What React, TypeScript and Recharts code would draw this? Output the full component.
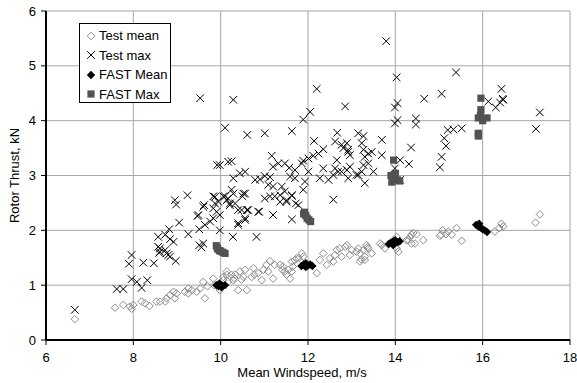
import { CartesianGrid, Scatter, ScatterChart, XAxis, YAxis } from 'recharts';

// windspeed (m/s), thrust (kN) pairs
const TEST_MEAN: [number, number][] = [
  [6.66, 0.38], [7.58, 0.59], [7.77, 0.64], [7.92, 0.61], [7.96, 0.57], [8.0, 0.64], [8.19, 0.7],
  [8.27, 0.67], [8.37, 0.62], [8.53, 0.7], [8.61, 0.7], [8.73, 0.7], [8.76, 0.76], [8.84, 0.82],
  [8.92, 0.88], [8.99, 0.85], [8.95, 0.76], [9.18, 0.88], [9.26, 0.94], [9.26, 0.85], [9.34, 0.91],
  [9.45, 0.88], [9.53, 0.94], [9.6, 1.06], [9.64, 0.76], [9.7, 0.98], [9.83, 1.12], [9.85, 1.0],
  [9.98, 0.91], [10.06, 1.15], [10.14, 1.19], [10.06, 1.09], [10.14, 1.25], [10.25, 1.19],
  [10.17, 1.06], [10.29, 1.09], [10.31, 1.13], [10.33, 1.19], [10.44, 1.25], [10.48, 1.1],
  [10.52, 1.15], [10.56, 1.28], [10.4, 0.91], [10.6, 0.91], [10.71, 1.15], [10.75, 1.31],
  [10.77, 1.19], [10.86, 1.22], [10.94, 1.09], [10.98, 1.28], [11.05, 1.37], [11.09, 1.25],
  [11.13, 1.44], [11.2, 1.12], [11.24, 1.37], [11.36, 1.37], [11.43, 1.34], [11.41, 1.28],
  [11.47, 1.25], [11.51, 1.19], [11.55, 1.28], [11.59, 1.12], [11.63, 1.25], [11.65, 1.34],
  [11.63, 1.43], [11.7, 1.46], [11.74, 1.49], [11.78, 1.49], [11.86, 1.58], [11.89, 1.52],
  [12.2, 1.22], [12.27, 1.46], [12.35, 1.58], [12.43, 1.37], [12.5, 1.49], [12.58, 1.43],
  [12.62, 1.55], [12.66, 1.64], [12.73, 1.67], [12.77, 1.52], [12.85, 1.7], [12.89, 1.73],
  [12.96, 1.55], [13.0, 1.64], [13.11, 1.61], [13.15, 1.67], [13.19, 1.58], [13.19, 1.43],
  [13.22, 1.47], [13.27, 1.64], [13.3, 1.46], [13.3, 1.52], [13.34, 1.73], [13.36, 1.69],
  [13.38, 1.67], [13.46, 1.58], [13.65, 1.76], [13.69, 1.73], [13.76, 1.67], [14.03, 1.88],
  [14.03, 1.67], [14.07, 1.61], [14.26, 1.82], [14.3, 1.82], [14.34, 1.88], [14.37, 1.92],
  [14.37, 1.76], [14.41, 1.95], [14.45, 1.76], [14.49, 1.93], [14.64, 1.82], [15.02, 1.9],
  [15.05, 1.92], [15.08, 2.0], [15.16, 1.93], [15.21, 1.98], [15.29, 1.92], [15.4, 2.04],
  [15.52, 1.81], [16.28, 1.98], [16.38, 2.04], [16.43, 2.12], [16.47, 2.07], [17.21, 2.14],
  [17.31, 2.29],
];

const TEST_MAX: [number, number][] = [
  [6.66, 0.55], [7.62, 0.93], [7.77, 0.93], [7.96, 1.11], [8.08, 1.06], [8.19, 0.95], [8.32, 1.09],
  [7.9, 1.39], [7.96, 1.55], [8.23, 1.41], [8.47, 1.4], [8.59, 1.59], [8.61, 1.67], [8.76, 1.58],
  [8.84, 1.52], [8.97, 1.44], [8.57, 1.7], [8.61, 1.61], [8.73, 1.64], [8.8, 1.55], [8.57, 1.88],
  [8.73, 1.92], [8.84, 1.84], [8.92, 1.79], [8.82, 2.02], [9.05, 2.14], [9.26, 1.93], [9.47, 2.26],
  [9.51, 1.73], [9.56, 1.69], [9.6, 1.76], [9.51, 2.02], [9.64, 2.1], [9.76, 2.16], [9.83, 2.22],
  [9.91, 2.34], [9.83, 2.4], [9.6, 2.43], [9.95, 2.52], [9.87, 2.61], [10.14, 2.55], [8.95, 2.55],
  [8.98, 2.47], [9.24, 2.64], [9.92, 3.19], [10.17, 3.25], [9.98, 2.0], [9.49, 2.28], [9.62, 2.46],
  [9.83, 2.62], [9.87, 2.49], [9.98, 2.28], [10.06, 2.62], [10.17, 2.58], [10.29, 2.67],
  [10.21, 2.46], [10.33, 2.49], [10.4, 2.37], [10.5, 2.62], [10.56, 2.67], [10.6, 2.37],
  [10.4, 2.13], [10.56, 2.19], [10.28, 1.88], [10.82, 1.88], [10.88, 2.34], [11.01, 2.58],
  [11.2, 2.28], [11.13, 2.62], [11.36, 2.52], [11.51, 2.55], [11.63, 2.2], [11.63, 2.64],
  [11.72, 2.49], [10.4, 2.1], [10.29, 4.38], [9.53, 4.41], [10.1, 3.87], [10.61, 3.74],
  [11.01, 3.77], [11.63, 3.81], [12.2, 4.58], [12.85, 4.26], [12.05, 4.16], [11.89, 4.02],
  [12.67, 3.78], [12.14, 3.63], [12.62, 3.62], [12.77, 3.56], [12.92, 3.43], [12.35, 3.48],
  [12.24, 3.4], [12.12, 3.36], [12.01, 3.31], [11.89, 3.27], [11.86, 3.22], [11.17, 3.36],
  [10.25, 3.26], [9.98, 3.19], [11.32, 3.22], [11.2, 3.16], [11.47, 3.22], [11.57, 3.14],
  [11.7, 3.1], [12.66, 3.28], [12.62, 3.13], [12.69, 3.07], [12.58, 3.01], [12.47, 2.92],
  [12.27, 2.95], [12.35, 3.13], [12.89, 3.1], [12.92, 2.95], [10.29, 2.95], [10.44, 3.04],
  [10.56, 3.07], [10.79, 2.92], [10.9, 2.93], [11.01, 2.99], [11.13, 2.97], [11.09, 2.83],
  [11.2, 2.8], [11.4, 2.8], [11.59, 2.98], [11.7, 2.95], [11.93, 2.89], [12.01, 3.07],
  [11.89, 2.74], [11.63, 2.63], [11.47, 2.71], [11.24, 2.62], [11.36, 2.64], [11.51, 2.52],
  [11.78, 2.46], [12.58, 2.56], [10.25, 2.74], [10.52, 2.67], [10.1, 2.62], [10.21, 2.49],
  [10.48, 2.37], [10.63, 2.37], [10.86, 2.34], [10.56, 2.22], [13.79, 5.45], [14.03, 4.79],
  [15.39, 4.88], [16.43, 4.58], [15.06, 4.49], [14.66, 4.4], [13.99, 4.24], [14.05, 4.32],
  [16.13, 4.35], [16.3, 4.24], [16.47, 4.38], [16.4, 4.33], [13.99, 3.95], [14.05, 4.01],
  [14.47, 4.04], [14.47, 3.93], [15.2, 3.83], [15.33, 3.84], [15.52, 3.86], [15.12, 3.68],
  [15.16, 3.54], [15.06, 3.34], [15.02, 3.15], [14.36, 3.51], [14.31, 3.21], [13.69, 3.65],
  [13.69, 3.37], [14.11, 3.28], [13.99, 3.13], [14.11, 2.92], [13.15, 3.77], [13.27, 3.72],
  [13.23, 3.59], [12.89, 3.59], [12.92, 3.47], [12.81, 3.5], [13.27, 3.47], [13.38, 3.4],
  [13.46, 3.43], [12.96, 3.37], [13.3, 3.34], [12.96, 3.16], [13.27, 3.19], [13.38, 3.22],
  [13.15, 3.01], [13.23, 3.07], [13.5, 3.07], [13.3, 2.86], [12.77, 3.07], [13.11, 3.01],
  [17.22, 3.85], [17.31, 4.15], [16.46, 4.4],
];

const FAST_MEAN: [number, number][] = [
  [9.9, 1.0], [9.95, 0.98], [10.0, 1.01], [10.05, 0.99], [10.1, 1.0], [9.97, 1.03], [10.02, 0.96],
  [11.85, 1.35], [11.9, 1.38], [11.95, 1.4], [12.0, 1.36], [12.05, 1.38], [12.1, 1.35], [11.95, 1.33],
  [13.85, 1.75], [13.9, 1.78], [13.95, 1.8], [14.0, 1.82], [14.05, 1.78], [14.1, 1.8], [13.95, 1.73],
  [15.85, 2.1], [15.9, 2.07], [15.95, 2.05], [16.0, 2.02], [16.05, 2.0], [16.1, 1.97], [15.92, 2.12],
];

const FAST_MAX: [number, number][] = [
  [9.9, 1.72], [9.93, 1.66], [9.97, 1.63], [10.0, 1.62], [10.05, 1.6], [10.1, 1.58], [9.92, 1.68],
  [11.92, 2.33], [11.95, 2.27], [11.98, 2.22], [12.02, 2.19], [12.06, 2.16], [11.9, 2.3],
  [13.96, 3.28], [13.9, 3.0], [13.95, 2.95], [14.0, 3.04], [14.05, 2.92], [14.1, 2.9], [13.92, 2.88],
  [15.96, 4.41], [15.96, 4.2], [15.9, 4.05], [16.0, 4.0], [16.1, 4.05], [15.95, 4.1],
  [15.9, 3.77], [15.9, 3.72],
];

const X_TICKS = [6, 8, 10, 12, 14, 16, 18];
const Y_TICKS = [0, 1, 2, 3, 4, 5, 6];

const LEGEND = [
  { key: 'testMean', label: 'Test mean' },
  { key: 'testMax', label: 'Test max' },
  { key: 'fastMean', label: 'FAST Mean' },
  { key: 'fastMax', label: 'FAST Max' },
];

const FONT = '"Liberation Sans", Arial, sans-serif';
const GRID = '#a6a6a6';
const MEAN_GREY = '#8c8c8c';
const MAX_GREY = '#525252';

const toPts = (arr: [number, number][]) => arr.map(([x, y]) => ({ x, y }));

function MeanDiamond({ cx, cy }: any) {
  const r = 3.8;
  return (
    <path
      d={`M${cx},${cy - r}L${cx + r},${cy}L${cx},${cy + r}L${cx - r},${cy}Z`}
      fill="#fff"
      fillOpacity={0}
      stroke={MEAN_GREY}
      strokeWidth={1}
    />
  );
}

function MaxCross({ cx, cy }: any) {
  const r = 3.8;
  return (
    <path
      d={`M${cx - r},${cy - r}L${cx + r},${cy + r}M${cx - r},${cy + r}L${cx + r},${cy - r}`}
      stroke="#000"
      strokeWidth={1}
      fill="none"
    />
  );
}

function FastDiamond({ cx, cy }: any) {
  const r = 4.2;
  return <path d={`M${cx},${cy - r}L${cx + r},${cy}L${cx},${cy + r}L${cx - r},${cy}Z`} fill="#000" />;
}

function FastSquare({ cx, cy }: any) {
  const r = 3.6;
  return <rect x={cx - r} y={cy - r} width={r * 2} height={r * 2} fill={MAX_GREY} />;
}

function LegendIcon({ kind }: { kind: string }) {
  const p = { cx: 6, cy: 6 };
  return (
    <svg width={12} height={12} style={{ display: 'block' }}>
      {kind === 'testMean' && <MeanDiamond {...p} />}
      {kind === 'testMax' && <MaxCross {...p} />}
      {kind === 'fastMean' && <FastDiamond {...p} />}
      {kind === 'fastMax' && <FastSquare {...p} />}
    </svg>
  );
}

function YTitle({ viewBox }: any) {
  const x = viewBox.x + 14;
  const y = viewBox.y + viewBox.height / 2;
  return (
    <text x={x} y={y} transform={`rotate(-90 ${x} ${y})`} textAnchor="middle" dominantBaseline="central" fontSize={13} fontFamily={FONT} fill="#000">
      Rotor Thrust, kN
    </text>
  );
}

function XTitle({ viewBox }: any) {
  return (
    <text x={viewBox.x + viewBox.width / 2 - 6} y={viewBox.y + 37} textAnchor="middle" fontSize={13} fontFamily={FONT} fill="#000">
      Mean Windspeed, m/s
    </text>
  );
}

export default function App() {
  const tick = { fill: '#000', fontSize: 13, fontFamily: FONT };
  return (
    <div style={{ position: 'absolute', left: 0, top: 0, width: 577, height: 383, background: '#fff' }}>
      <ScatterChart width={577} height={383} margin={{ top: 11, right: 7, bottom: 0, left: 0 }}>
        <CartesianGrid stroke={GRID} strokeWidth={1} />
        <XAxis
          type="number"
          dataKey="x"
          domain={[6, 18]}
          ticks={X_TICKS}
          height={43}
          tick={tick}
          tickSize={5}
          tickMargin={8}
          axisLine={{ stroke: '#000', strokeWidth: 2 }}
          tickLine={{ stroke: '#000' }}
          label={<XTitle />}
        />
        <YAxis
          type="number"
          dataKey="y"
          domain={[0, 6]}
          ticks={Y_TICKS}
          width={46}
          tick={tick}
          tickSize={5}
          tickMargin={5}
          axisLine={{ stroke: '#000', strokeWidth: 2 }}
          tickLine={{ stroke: '#000' }}
          label={<YTitle />}
        />
        <Scatter name="Test mean" data={toPts(TEST_MEAN)} shape={(p: any) => <MeanDiamond {...p} />} isAnimationActive={false} />
        <Scatter name="Test max" data={toPts(TEST_MAX)} shape={(p: any) => <MaxCross {...p} />} isAnimationActive={false} />
        <Scatter name="FAST Max" data={toPts(FAST_MAX)} shape={(p: any) => <FastSquare {...p} />} isAnimationActive={false} />
        <Scatter name="FAST Mean" data={toPts(FAST_MEAN)} shape={(p: any) => <FastDiamond {...p} />} isAnimationActive={false} />
      </ScatterChart>
      <div
        style={{
          position: 'absolute',
          left: 79,
          top: 23,
          width: 90,
          height: 76,
          border: '1px solid #000',
          background: '#fff',
          fontFamily: FONT,
          fontSize: 13,
          paddingTop: 2,
          boxSizing: 'content-box',
        }}
      >
        {LEGEND.map((item) => (
          <div key={item.key} style={{ display: 'flex', alignItems: 'center', height: 19.5, paddingLeft: 5 }}>
            <LegendIcon kind={item.key} />
            <span style={{ marginLeft: 2 }}>{item.label}</span>
          </div>
        ))}
      </div>
    </div>
  );
}
